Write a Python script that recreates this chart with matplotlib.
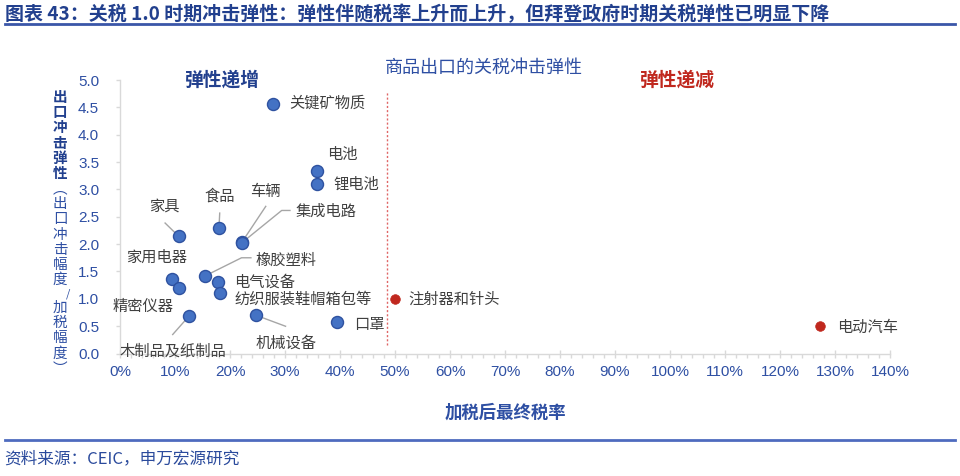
import matplotlib
matplotlib.use("Agg")
import matplotlib.pyplot as plt
from matplotlib.lines import Line2D
from matplotlib.ticker import MultipleLocator, FuncFormatter

plt.rcParams['font.family'] = ['Noto Sans CJK SC', 'DejaVu Sans']

# ----------------------------------------------------
# data
# ----------------------------------------------------
inc_names = ["关键矿物质", "电池", "锂电池", "食品", "车辆", "集成电路", "家具",
             "橡胶塑料", "家用电器", "精密仪器", "电气设备", "纺织服装鞋帽箱包等",
             "木制品及纸制品", "机械设备", "口罩"]
inc_rate = [0.279, 0.359, 0.359, 0.180, 0.222, 0.221, 0.107,
            0.155, 0.095, 0.107, 0.179, 0.182, 0.126, 0.247, 0.395]
inc_elast = [4.57, 3.33, 3.10, 2.30, 2.04, 2.02, 2.14,
             1.42, 1.37, 1.20, 1.31, 1.11, 0.69, 0.70, 0.57]

dec_names = ["注射器和针头", "电动汽车"]
dec_rate = [0.500, 1.273]
dec_elast = [1.00, 0.50]

threshold = 0.485

x_ticks = [i / 10 for i in range(15)]
y_ticks = [i / 2 for i in range(11)]

# label placement (data coords) and leader lines
label_pos = {
    "关键矿物质": (0.307, 4.57, "left"),
    "电池": (0.405, 3.64, "center"),
    "锂电池": (0.388, 3.10, "left"),
    "食品": (0.181, 2.88, "center"),
    "车辆": (0.2645, 2.96, "center"),
    "集成电路": (0.320, 2.60, "left"),
    "家具": (0.081, 2.69, "center"),
    "家用电器": (0.0667, 1.75, "center"),
    "橡胶塑料": (0.247, 1.70, "left"),
    "电气设备": (0.208, 1.30, "left"),
    "精密仪器": (0.0415, 0.86, "center"),
    "纺织服装鞋帽箱包等": (0.209, 0.985, "left"),
    "口罩": (0.4255, 0.53, "left"),
    "木制品及纸制品": (0.096, 0.036, "center"),
    "机械设备": (0.301, 0.18, "center"),
    "注射器和针头": (0.524, 0.985, "left"),
    "电动汽车": (1.304, 0.47, "left"),
}
leaders = {
    "家具": [(0.082, 2.385)],
    "食品": [(0.1813, 2.567)],
    "车辆": [(0.265, 2.69)],
    "集成电路": [(0.309, 2.615), (0.294, 2.615)],
    "橡胶塑料": [(0.238, 1.75), (0.221, 1.75)],
    "木制品及纸制品": [(0.0958, 0.347)],
    "机械设备": [(0.301, 0.498)],
}

BLUE = "#2E4FA3"
NAVY = "#22408E"
RED = "#C0281E"
GREY_TXT = "#404040"

fig = plt.figure(figsize=(9.6, 4.76), dpi=100)
ax = fig.add_axes([120 / 960, 1 - 353.5 / 476, 770 / 960, (353.5 - 80) / 476])

# leader lines
for name, pts in leaders.items():
    i = inc_names.index(name)
    xs = [p[0] for p in pts] + [inc_rate[i]]
    ys = [p[1] for p in pts] + [inc_elast[i]]
    ax.plot(xs, ys, color="#A6A6A6", lw=1, zorder=2)

ax.scatter(inc_rate, inc_elast, s=75, color="#4472C4", edgecolor="#2F52A0",
           linewidth=1, zorder=3)
ax.scatter(dec_rate, dec_elast, s=48, color=RED, edgecolor=RED, linewidth=0.5, zorder=3)

ax.vlines(threshold, 0.15, 4.8, colors="#E06666", linestyles=(0, (1.5, 1.5)), lw=1, zorder=1)

for name in inc_names + dec_names:
    lx, ly, ha = label_pos[name]
    ax.text(lx, ly, name, ha=ha, va="center", fontsize=11, color=GREY_TXT,
            zorder=4, clip_on=False)

ax.set_xlim(0, 1.4)
ax.set_ylim(0, 5)
ax.set_xticks(x_ticks)
ax.set_yticks(y_ticks)
ax.xaxis.set_minor_locator(MultipleLocator(0.02))
ax.xaxis.set_major_formatter(FuncFormatter(lambda v, p: f"{v * 100:.0f}%"))
ax.yaxis.set_major_formatter(FuncFormatter(lambda v, p: f"{v:.1f}"))
for lab in ax.get_xticklabels() + ax.get_yticklabels():
    lab.set_fontfamily(["Liberation Sans", "DejaVu Sans"])
ax.tick_params(axis="x", which="major", direction="inout", length=6, width=1,
               color="#D9D9D9", labelsize=11, labelcolor=BLUE, pad=5)
ax.tick_params(axis="x", which="minor", direction="out", length=3, width=1, color="#D9D9D9")
ax.tick_params(axis="y", which="major", direction="out", length=3, width=1,
               color="#D9D9D9", labelsize=11, labelcolor=BLUE, pad=12)
for s in ["top", "right"]:
    ax.spines[s].set_visible(False)
for s in ["left", "bottom"]:
    ax.spines[s].set_color("#D9D9D9")
    ax.spines[s].set_linewidth(1)

# titles and annotations
ax.set_xlabel("加税后最终税率", fontsize=12.5, fontweight="bold", color=BLUE, labelpad=18)
fig.text(484 / 960, 1 - 68 / 476, "商品出口的关税冲击弹性", ha="center", va="center",
         fontsize=13, color=BLUE)
fig.text(222 / 960, 1 - 80 / 476, "弹性递增", ha="center", va="center",
         fontsize=13.5, fontweight="bold", color=NAVY)
fig.text(677 / 960, 1 - 80 / 476, "弹性递减", ha="center", va="center",
         fontsize=13.5, fontweight="bold", color=RED)

# vertical y label, characters stacked upright
def vtext(chars, y0, step, **kw):
    for k, ch in enumerate(chars):
        fig.text(60 / 960, 1 - (y0 + k * step) / 476, ch, ha="center", va="center", **kw)

vtext("出口冲击弹性", 97, 15.2, fontsize=10.5, fontweight="bold", color=NAVY)
vtext("︵出口冲击幅度", 189, 15.2, fontsize=10.5, color=BLUE)
fig.text(68 / 960, 1 - 294 / 476, "/", ha="center", va="center", fontsize=8, color=BLUE)
vtext("加税幅度︶", 308, 15.2, fontsize=10.5, color=BLUE)

# header and footer
fig.text(5 / 960, 1 - 14 / 476,
         "图表 43：关税 1.0 时期冲击弹性：弹性伴随税率上升而上升，但拜登政府时期关税弹性已明显下降",
         ha="left", va="center", fontsize=13.7, fontweight="bold", color=NAVY)
fig.add_artist(Line2D([5 / 960, 955 / 960], [1 - 23.5 / 476] * 2, color="#3A56A8", lw=2))
fig.add_artist(Line2D([5 / 960, 955 / 960], [1 - 440 / 476] * 2, color="#4E6BBF", lw=2))
fig.text(4 / 960, 1 - 459 / 476, "资料来源：CEIC，申万宏源研究", ha="left", va="center",
         fontsize=12, color="#2A4A9C")

fig.savefig("out.png", dpi=100)
